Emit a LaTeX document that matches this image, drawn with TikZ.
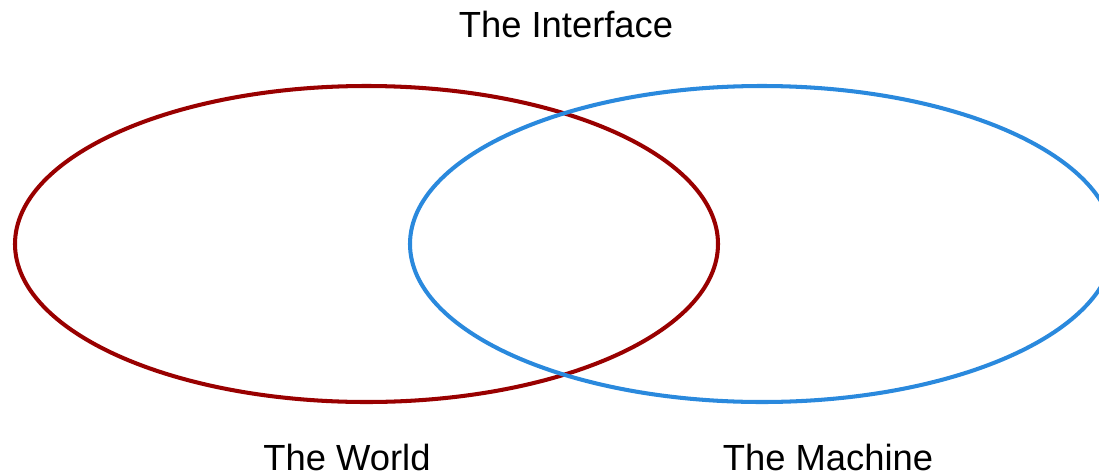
\documentclass[tikz,border=0pt]{standalone}
\usepackage{fontspec}
\setmainfont{Liberation Sans}
\definecolor{worldred}{RGB}{153,0,0}
\definecolor{machineblue}{RGB}{42,137,221}
\begin{document}
\begin{tikzpicture}[x=0.02cm, y=-0.02cm,
    label/.style={anchor=base, font=\fontsize{20.7}{24}\selectfont},
    set/.style={line width=2.3pt}]
    \useasboundingbox (0,0) rectangle (1099,474);

    % The two sets
    \draw[set, worldred] (366.5,244) ellipse (351.5 and 158);
    \draw[set, machineblue] (762,244) ellipse (352 and 158);

    % Labels
    \node[label] (interface) at (566,37) {The Interface};
    \node[label] (world) at (347,470) {The World};
    \node[label] (machine) at (828,470) {The Machine};
\end{tikzpicture}
\end{document}
